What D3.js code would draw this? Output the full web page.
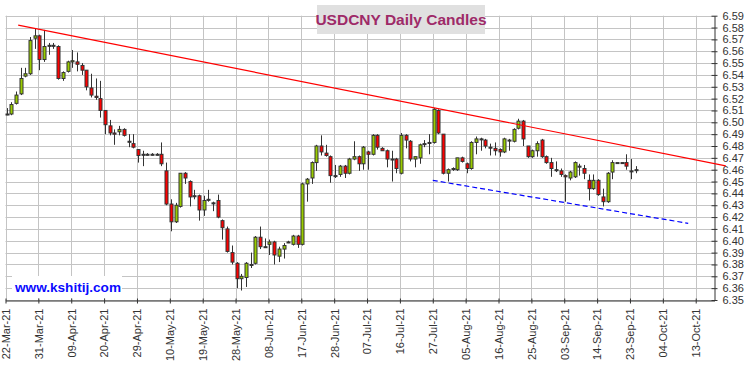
<!DOCTYPE html>
<html>
<head>
<meta charset="utf-8">
<script src="https://cdn.jsdelivr.net/npm/d3@7"></script>
<style>
  html, body { margin: 0; padding: 0; background: #fff; }
  svg { display: block; }
  text { font-family: "Liberation Sans", Arial, sans-serif; }
</style>
</head>
<body>
<div id="chart"></div>
<script>
// ---- Data (trading-day index 0 = 22-Mar-21) ----
const open  = [6.507,6.507,6.516,6.524,6.539,6.541,6.571,6.573,6.553,6.565,6.565,6.564,6.537,6.543,6.551,6.551,6.548,6.544,6.529,6.522,
               6.520,6.510,6.497,6.491,6.492,6.494,6.484,6.482,6.477,6.473,6.473,6.473,6.473,6.473,6.459,6.431,6.416,6.429,6.457,6.450,
               6.438,6.438,6.426,6.435,6.432,6.434,6.417,6.410,6.390,6.381,6.368,6.369,6.380,6.381,6.403,6.395,6.397,6.399,6.387,6.393,
               6.399,6.397,6.404,6.397,6.448,6.453,6.466,6.480,6.474,6.471,6.455,6.456,6.463,6.457,6.469,6.471,6.465,6.475,6.473,6.489,
               6.478,6.476,6.469,6.469,6.457,6.489,6.484,6.469,6.470,6.482,6.483,6.483,6.510,6.490,6.457,6.461,6.460,6.470,6.465,6.461,
               6.483,6.486,6.485,6.479,6.478,6.477,6.475,6.485,6.484,6.495,6.501,6.480,6.471,6.476,6.485,6.471,6.466,6.460,6.459,6.455,
               6.453,6.454,6.463,6.461,6.451,6.444,6.451,6.437,6.433,6.458,6.466,6.466,6.466,6.459,6.460];
const high  = [6.512,6.517,6.526,6.546,6.546,6.572,6.579,6.574,6.578,6.567,6.567,6.565,6.543,6.552,6.561,6.559,6.550,6.544,6.541,6.537,
               6.535,6.510,6.502,6.494,6.497,6.495,6.490,6.490,6.477,6.476,6.474,6.474,6.474,6.483,6.466,6.435,6.432,6.457,6.458,6.451,
               6.443,6.439,6.438,6.443,6.433,6.439,6.418,6.412,6.396,6.382,6.372,6.382,6.390,6.404,6.412,6.402,6.401,6.400,6.395,6.398,
               6.400,6.405,6.405,6.449,6.453,6.467,6.481,6.489,6.481,6.472,6.464,6.464,6.464,6.470,6.484,6.472,6.480,6.476,6.490,6.490,
               6.479,6.477,6.476,6.470,6.491,6.490,6.485,6.471,6.482,6.485,6.490,6.512,6.511,6.490,6.461,6.462,6.470,6.471,6.466,6.484,
               6.488,6.487,6.486,6.482,6.483,6.478,6.487,6.486,6.495,6.503,6.502,6.480,6.477,6.484,6.486,6.472,6.470,6.467,6.461,6.456,
               6.459,6.467,6.465,6.464,6.456,6.456,6.452,6.444,6.458,6.468,6.466,6.466,6.473,6.469,6.463];
const low   = [6.506,6.506,6.515,6.523,6.538,6.540,6.562,6.544,6.551,6.557,6.562,6.536,6.535,6.542,6.546,6.543,6.540,6.527,6.521,6.519,
               6.504,6.490,6.489,6.481,6.489,6.488,6.479,6.478,6.466,6.463,6.472,6.472,6.472,6.463,6.430,6.408,6.415,6.428,6.448,6.429,
               6.435,6.417,6.421,6.433,6.425,6.419,6.401,6.390,6.380,6.360,6.358,6.361,6.377,6.380,6.393,6.394,6.388,6.380,6.382,6.385,
               6.398,6.396,6.394,6.396,6.433,6.448,6.459,6.472,6.471,6.449,6.453,6.454,6.453,6.456,6.468,6.459,6.460,6.460,6.472,6.477,
               6.476,6.462,6.450,6.457,6.456,6.478,6.467,6.462,6.465,6.479,6.473,6.482,6.490,6.456,6.450,6.459,6.459,6.466,6.457,6.460,
               6.473,6.476,6.478,6.472,6.472,6.471,6.474,6.476,6.483,6.494,6.480,6.470,6.470,6.471,6.470,6.465,6.454,6.458,6.454,6.433,
               6.451,6.453,6.455,6.452,6.434,6.443,6.438,6.429,6.432,6.452,6.466,6.466,6.460,6.452,6.457];
const close = [6.507,6.515,6.523,6.537,6.541,6.569,6.573,6.553,6.564,6.565,6.565,6.537,6.542,6.551,6.552,6.549,6.544,6.530,6.523,6.521,
               6.510,6.498,6.491,6.490,6.494,6.489,6.484,6.479,6.472,6.473,6.473,6.473,6.473,6.465,6.431,6.416,6.430,6.457,6.453,6.437,
               6.438,6.426,6.434,6.435,6.432,6.420,6.411,6.391,6.382,6.368,6.370,6.381,6.380,6.403,6.395,6.395,6.399,6.388,6.393,6.396,
               6.399,6.404,6.397,6.448,6.452,6.466,6.480,6.475,6.472,6.455,6.455,6.463,6.457,6.469,6.471,6.465,6.479,6.473,6.489,6.479,
               6.476,6.469,6.469,6.461,6.489,6.485,6.469,6.471,6.481,6.482,6.483,6.511,6.491,6.457,6.460,6.461,6.470,6.467,6.461,6.483,
               6.486,6.486,6.480,6.479,6.476,6.475,6.486,6.485,6.494,6.501,6.486,6.471,6.476,6.482,6.471,6.466,6.461,6.460,6.456,6.454,
               6.458,6.466,6.463,6.457,6.444,6.451,6.439,6.433,6.457,6.466,6.466,6.466,6.463,6.459,6.460];

const tickLabels = ["22-Mar-21","31-Mar-21","09-Apr-21","20-Apr-21","29-Apr-21","10-May-21","19-May-21","28-May-21",
                    "08-Jun-21","17-Jun-21","28-Jun-21","07-Jul-21","16-Jul-21","27-Jul-21","05-Aug-21","16-Aug-21",
                    "25-Aug-21","03-Sep-21","14-Sep-21","23-Sep-21","04-Oct-21","13-Oct-21"];
const tickIndex  = [0,7,14,21,28,35,42,49,56,63,70,77,84,91,98,105,112,119,126,133,140,147];
const yTicks = [6.35,6.36,6.37,6.38,6.39,6.40,6.41,6.42,6.43,6.44,6.45,6.46,6.47,6.48,6.49,6.50,
                6.51,6.52,6.53,6.54,6.55,6.56,6.57,6.58,6.59];

const resistanceLine = [[2.7, 6.582], [153.4, 6.4633]];
const supportLine    = [[91.0, 6.451], [145.4, 6.4147]];

const title = "USDCNY Daily Candles";
const watermark = "www.kshitij.com";

// ---- Layout ----
const W = 750, H = 366;
const svg = d3.select("#chart").append("svg").attr("width", W).attr("height", H);

const x = d3.scaleLinear().domain([0, 151]).range([5.5, 714.5]);
const y = d3.scaleLinear().domain([6.35, 6.59]).range([300, 15.7]);

const gridColor = "#c4c4c4";
// horizontal grid
svg.append("g").selectAll("line").data(yTicks).join("line")
  .attr("x1", x(0)).attr("x2", x(151))
  .attr("y1", d => Math.round(y(d)) + 0.5).attr("y2", d => Math.round(y(d)) + 0.5)
  .attr("stroke", gridColor).attr("stroke-width", 1);
// vertical grid
svg.append("g").selectAll("line").data(tickIndex).join("line")
  .attr("x1", d => Math.round(x(d)) + 0.5).attr("x2", d => Math.round(x(d)) + 0.5)
  .attr("y1", y(6.59)).attr("y2", y(6.35))
  .attr("stroke", gridColor).attr("stroke-width", 1);

// axes
const xAxis = d3.axisBottom(x).tickValues(tickIndex).tickFormat((d, i) => tickLabels[i])
  .tickSizeInner(3).tickSizeOuter(0).tickPadding(6);
const gx = svg.append("g").attr("transform", "translate(0,300.5)").call(xAxis);
gx.select(".domain").attr("stroke", "#333");
gx.selectAll(".tick line").attr("stroke", "#333").attr("y1", -2).attr("y2", 3);
gx.selectAll(".tick text")
  .attr("fill", "#333").attr("font-size", "11px").attr("font-family", "Liberation Sans, Arial, sans-serif")
  .attr("transform", "rotate(-90)")
  .attr("text-anchor", "end").attr("x", -8).attr("y", 0).attr("dy", "0.35em");

const yAxis = d3.axisRight(y).tickValues(yTicks).tickFormat(d3.format(".2f"))
  .tickSizeInner(3).tickSizeOuter(0).tickPadding(5);
const gy = svg.append("g").attr("transform", "translate(714.5,0)").call(yAxis);
gy.select(".domain").attr("stroke", "#333");
gy.selectAll(".tick line").attr("stroke", "#333").attr("x1", -3).attr("x2", 3);
gy.selectAll(".tick text").attr("fill", "#333").attr("font-size", "11px")
  .attr("font-family", "Liberation Sans, Arial, sans-serif");

// candles
const idx = d3.range(open.length);
const cx = i => Math.round(x(i) + 1) + 0.5;
const cg = svg.append("g");
cg.selectAll("line.wick").data(idx).join("line").attr("class", "wick")
  .attr("x1", cx).attr("x2", cx)
  .attr("y1", i => y(high[i])).attr("y2", i => y(low[i]))
  .attr("stroke", "#333").attr("stroke-width", 1);
cg.selectAll("rect.body").data(idx).join("rect").attr("class", "body")
  .attr("x", i => cx(i) - 1.5).attr("width", 3)
  .attr("y", i => y(Math.max(open[i], close[i])))
  .attr("height", i => Math.max(1, Math.abs(y(open[i]) - y(close[i]))))
  .attr("fill", i => close[i] > open[i] ? "#99cc00" : (close[i] < open[i] ? "#ff0000" : "#333"))
  .attr("stroke", "#333").attr("stroke-width", 1);

// trend lines
const line = d3.line().x(d => x(d[0])).y(d => y(d[1]));
svg.append("path").attr("d", line(resistanceLine)).attr("fill", "none")
  .attr("stroke", "#ff0000").attr("stroke-width", 1.2);
svg.append("path").attr("d", line(supportLine)).attr("fill", "none")
  .attr("stroke", "#0000ff").attr("stroke-width", 1.2).attr("stroke-dasharray", "5,3");

// title
svg.append("rect").attr("x", 317).attr("y", 5).attr("width", 168).attr("height", 29).attr("fill", "#e0e0e0");
svg.append("text").attr("x", 401).attr("y", 25).attr("text-anchor", "middle")
  .attr("font-size", "15.5px").attr("font-weight", "bold").attr("fill", "#9e2a68").text(title);

// watermark
svg.append("rect").attr("x", 12).attr("y", 276).attr("width", 110).attr("height", 22).attr("fill", "#fff");
svg.append("text").attr("x", 15).attr("y", 291.5)
  .attr("font-size", "13.6px").attr("font-weight", "bold").attr("fill", "#0a0aff").text(watermark);
</script>
</body>
</html>
